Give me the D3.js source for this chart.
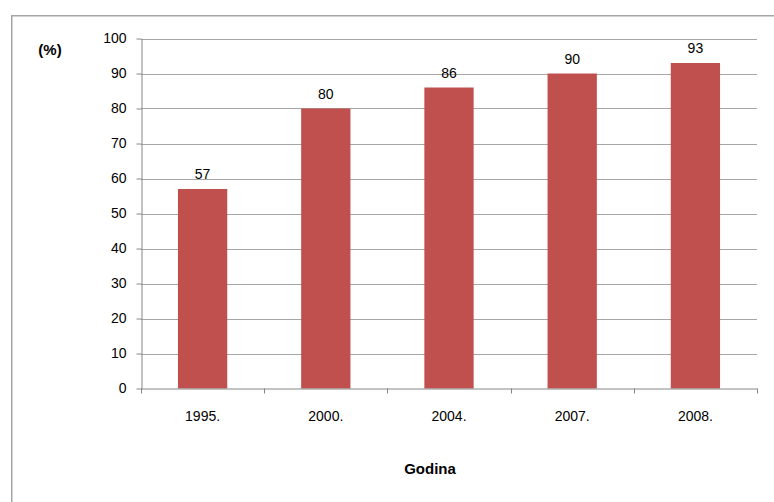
<!DOCTYPE html>
<html>
<head>
<meta charset="utf-8">
<script src="https://cdn.jsdelivr.net/npm/d3@7"></script>
<style>
  html, body { margin: 0; padding: 0; background: #fff; }
  svg { display: block; }
  text { font-family: "Liberation Sans", Arial, sans-serif; fill: #000; }
</style>
</head>
<body>
<svg id="chart" width="774" height="502"></svg>
<script>
// Share by year (%)
const years = ["1995.", "2000.", "2004.", "2007.", "2008."];
const values = [57, 80, 86, 90, 93];
const yTicks = [0, 10, 20, 30, 40, 50, 60, 70, 80, 90, 100];

const svg = d3.select("#chart");
const plot = { left: 141, right: 757, top: 38.5, bottom: 388.5 };
const FONT = "Liberation Sans, Arial, sans-serif";

// Outer chart frame (extends past the right and bottom edges)
svg.append("rect")
  .attr("x", 11.75).attr("y", 15.75)
  .attr("width", 800).attr("height", 520)
  .attr("fill", "none")
  .attr("stroke", "#a6a6a6")
  .attr("stroke-width", 1.5);

const x = d3.scaleBand().domain(years).range([plot.left, plot.right]).paddingInner(0.6).paddingOuter(0.3);
const xCat = d3.scaleBand().domain(years).range([plot.left, plot.right]);
const y = d3.scaleLinear().domain([0, 100]).range([plot.bottom, plot.top]);

// Horizontal gridlines
svg.append("g").selectAll("line").data(yTicks.filter(d => d > 0)).join("line")
  .attr("x1", plot.left).attr("x2", plot.right)
  .attr("y1", d => Math.round(y(d)) + 0.5).attr("y2", d => Math.round(y(d)) + 0.5)
  .attr("stroke", "#a6a6a6").attr("stroke-width", 1);

// Bars
svg.append("g").selectAll("rect").data(values).join("rect")
  .attr("x", (d, i) => x(years[i]))
  .attr("width", x.bandwidth())
  .attr("y", d => y(d))
  .attr("height", d => y(0) - y(d))
  .attr("fill", "#c0504d");

// Value labels
svg.append("g").selectAll("text").data(values).join("text")
  .attr("x", (d, i) => x(years[i]) + x.bandwidth() / 2)
  .attr("y", d => y(d) - 10)
  .attr("text-anchor", "middle")
  .attr("font-size", 14)
  .text(d => d);

// Y axis
const yAxis = svg.append("g")
  .attr("transform", `translate(${plot.left + 0.5},0)`)
  .call(d3.axisLeft(y).tickValues(yTicks).tickSize(5).tickPadding(10).tickSizeOuter(0));
yAxis.selectAll("text").attr("font-size", 14).attr("font-family", FONT);

// X axis with ticks at category boundaries
const xAxis = svg.append("g")
  .attr("transform", `translate(0,${plot.bottom})`)
  .call(d3.axisBottom(xCat).tickSize(0).tickPadding(23).tickSizeOuter(0));
xAxis.selectAll("text").attr("font-size", 14).attr("font-family", FONT);
const bounds = years.map(d => xCat(d)).concat([plot.right]);
xAxis.append("g").selectAll("line").data(bounds).join("line")
  .attr("x1", d => Math.round(d) + 0.5).attr("x2", d => Math.round(d) + 0.5)
  .attr("y1", 0).attr("y2", 5)
  .attr("stroke", "#868686");

svg.selectAll(".domain").attr("stroke", "#868686");
svg.selectAll(".tick line").attr("stroke", "#868686");

// Axis titles
svg.append("text").attr("x", 50).attr("y", 55)
  .attr("text-anchor", "middle").attr("font-size", 15).attr("font-weight", "bold")
  .text("(%)");
svg.append("text").attr("x", 430).attr("y", 474)
  .attr("text-anchor", "middle").attr("font-size", 15).attr("font-weight", "bold")
  .text("Godina");
</script>
</body>
</html>
